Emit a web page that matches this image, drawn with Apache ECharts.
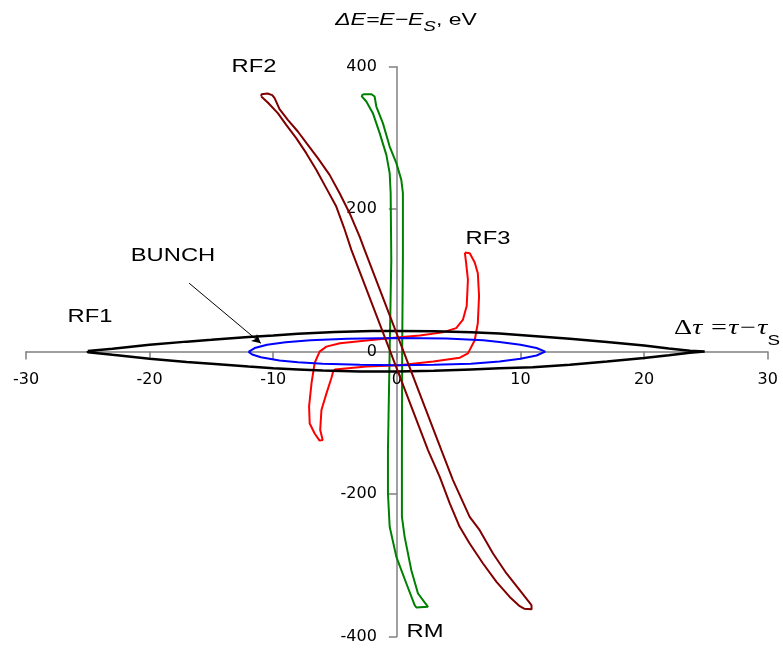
<!DOCTYPE html>
<html>
<head>
<meta charset="utf-8">
<script src="https://cdn.jsdelivr.net/npm/echarts@6/dist/echarts.min.js"></script>
<style>
  html, body { margin: 0; padding: 0; background: #ffffff; }
  #chart { width: 783px; height: 651px; }
</style>
</head>
<body>
<div id="chart"></div>
<script>
// Phase-plane portraits: time offset (ns) vs energy offset (eV)
const xTickValues = [-30, -20, -10, 0, 10, 20, 30];
const yTickValues = [-400, -200, 0, 200, 400];

// RF1 separatrix (lens-shaped bucket)
const rf1 = [
  [-25, 0.8], [-23, 4], [-20, 9.5], [-17, 14], [-15, 16.5], [-12, 20.5], [-10, 22.5], [-8, 25],
  [-5, 27.5], [-2, 29], [0, 29], [3, 28.5], [6, 27], [8.3, 25.5], [11, 22], [14, 18], [17, 13.5],
  [20, 8.5], [22, 4.5], [23.7, 1.3], [24.9, 0.3],
  [24.9, -0.3], [23.7, -1.5], [22, -5], [20, -9], [17, -14], [14, -18.5], [11, -22], [8.3, -23.5],
  [6, -25], [3, -27], [0, -28], [-3, -28], [-6, -26.5], [-8, -25], [-10, -23.5], [-12, -21],
  [-15, -17], [-17, -14.5], [-20, -10], [-23, -4.5], [-25, -0.8], [-25, 0.8]
];

// Bunch contour
const bunch = [
  [-12, -0.5], [-11.5, 5], [-10.5, 9.5], [-9, 13], [-7, 16], [-4, 18], [0, 19], [4, 18.5],
  [7, 16], [8.3, 13.5], [10, 9.5], [11.3, 5], [12, 0],
  [11.3, -5.5], [10, -10], [8.3, -14], [6, -17], [3, -18.5], [0, -19], [-3, -18.5], [-6, -17],
  [-8, -15], [-9.5, -12.5], [-11, -8], [-11.7, -4], [-12, -0.5]
];

// RF2 contour (sheared, long thin loop)
const rf2 = [
  [-10.97, 358.2], [-10.44, 349.7], [-9.63, 334.8], [-8.95, 318.4], [-8.14, 299.7], [-7.33, 278.6],
  [-6.52, 255.2], [-5.71, 229.5], [-4.90, 203.6], [-4.27, 173.8], [-3.68, 142.8],
  [2.52, -138.2], [3.47, -175.8], [4.28, -213.2], [5.08, -246], [5.89, -269.4], [6.97, -297.5],
  [8.06, -323.3], [9.13, -344.4], [9.94, -357.5], [10.3, -361], [10.9, -361.7], [10.89, -356],
  [9.94, -335], [8.87, -311.5], [7.78, -283.4], [6.70, -250.7], [5.89, -232], [4.54, -180.4],
  [3.60, -138.3], [-2.61, 142.8], [-3.01, 161.4], [-3.82, 194.3], [-4.63, 222.4], [-5.44, 248.1],
  [-6.39, 271.6], [-7.20, 290.3], [-8.01, 309], [-8.82, 325.4], [-9.49, 340.4], [-9.89, 355.9],
  [-10.08, 360.1], [-10.46, 362.4], [-10.95, 361.3], [-10.97, 358.2]
];

// RF3 contour (S-shaped loop)
const rf3 = [
  [5.5, 139], [5.6, 125], [5.75, 101], [5.65, 64], [5.35, 45], [4.8, 33], [3.7, 27], [1.85, 22.5],
  [0.2, 20], [-2.45, 15.5], [-4.6, 11.7], [-5.7, 7], [-6.25, 0], [-6.65, -16], [-6.9, -44],
  [-7.1, -77], [-7.05, -101], [-6.65, -115], [-6.25, -125], [-6.0, -124], [-6.2, -110],
  [-6.1, -82], [-5.7, -59], [-5.3, -37.5], [-5.15, -28], [-5.0, -25], [-2.45, -21], [0.2, -19],
  [2.95, -14], [5.1, -8.5], [5.75, -2.5], [6.3, 16], [6.55, 40], [6.65, 78], [6.55, 110],
  [6.3, 125], [5.9, 138], [5.5, 139]
];

// RM contour (nearly vertical loop)
const rm = [
  [-2.87, 359.1], [-2.47, 351.1], [-1.94, 334.8], [-1.39, 306.7], [-0.85, 276.2], [-0.58, 250.5],
  [-0.50, 222.4], [-0.45, 128.7], [-0.58, 2], [-0.72, -138.2], [-0.72, -199.1], [-0.58, -246],
  [-0.04, -288.2], [0.77, -325.6], [1.44, -356], [1.58, -359.3], [2.52, -358.4], [1.71, -339.6],
  [1.17, -306.9], [0.63, -260.1], [0.41, -232], [0.41, -138.2], [0.43, 2], [0.49, 128.7],
  [0.49, 222.4], [0.36, 241.1], [-0.04, 264.6], [-0.58, 287.9], [-1.13, 320.8], [-1.66, 344.1],
  [-1.80, 358.2], [-2.05, 361.3], [-2.69, 361.3], [-2.87, 359.1]
];

// Pointer from the BUNCH caption to the bunch contour
const bunchArrow = [[-16.8, 96], [-11.0, 11.7]];

const chart = echarts.init(document.getElementById('chart'), null, { renderer: 'canvas' });

function loop(name, data, color, width, extra) {
  return Object.assign({
    name: name,
    type: 'line',
    data: data,
    showSymbol: false,
    symbol: 'none',
    smooth: false,
    lineStyle: { color: color, width: width },
    emphasis: { disabled: true },
    silent: true
  }, extra || {});
}

const labelFont = '"Liberation Sans", Arial, sans-serif';
const serifFont = '"Liberation Serif", "Times New Roman", serif';
const stretch = 1.32;

function caption(text, x, y) {
  return {
    type: 'text', x: x, y: y, scaleX: stretch, silent: true,
    style: { text: text, fill: '#000', fontSize: 18, fontFamily: labelFont, align: 'center', verticalAlign: 'middle' }
  };
}

const axisGray = '#808080';
function axisCommon(ticks) {
  return {
    type: 'value',
    min: ticks[0],
    max: ticks[ticks.length - 1],
    interval: ticks[1] - ticks[0],
    axisLine: { show: true, onZero: false, lineStyle: { color: axisGray, width: 1.5 } },
    axisTick: { show: true, inside: false, length: 8, lineStyle: { color: axisGray, width: 1.5 } },
    axisLabel: { margin: 20, color: '#000', fontSize: 16, fontFamily: '"DejaVu Sans", sans-serif' },
    splitLine: { show: false }
  };
}

const grid = { left: 26, right: 15.3, top: 66.7, bottom: 14.5, containLabel: false, outerBoundsMode: 'none' };

chart.setOption({
  animation: false,
  backgroundColor: '#ffffff',
  grid: grid,
  xAxis: axisCommon(xTickValues),
  yAxis: axisCommon(yTickValues),
  series: [
    loop('RM', rm, '#008000', 2),
    loop('RF3', rf3, '#ff0000', 2),
    loop('RF1', rf1, '#000000', 2.5),
    loop('BUNCH', bunch, '#0000ff', 2, {
      markLine: {
        silent: true,
        symbol: ['none', 'arrow'],
        symbolSize: [7, 9],
        label: { show: false },
        lineStyle: { color: '#000', width: 1, type: 'solid' },
        data: [[{ coord: bunchArrow[0] }, { coord: bunchArrow[1] }]]
      }
    }),
    loop('RF2', rf2, '#800000', 2)
  ],
  graphic: [
    caption('RF2', 254, 67),
    caption('RF1', 90, 317),
    caption('BUNCH', 173, 256),
    caption('RF3', 488, 239),
    caption('RM', 425, 632),
    {
      // vertical-axis title with subscript
      type: 'text', x: 406, y: 27, scaleX: 1.35, silent: true,
      style: {
        text: '{i|ΔE=E−E}{s|S}{n|, eV}',
        align: 'center', verticalAlign: 'middle', fill: '#000',
        fontSize: 17, fontFamily: labelFont,
        rich: {
          i: { fontStyle: 'italic', fontSize: 17, fontFamily: labelFont, fill: '#000', lineHeight: 17, verticalAlign: 'top' },
          s: { fontStyle: 'italic', fontSize: 14, fontFamily: labelFont, fill: '#000', lineHeight: 30, verticalAlign: 'middle' },
          n: { fontSize: 17, fontFamily: labelFont, fill: '#000', lineHeight: 17, verticalAlign: 'top' }
        }
      }
    },
    {
      // horizontal-axis title with subscript
      type: 'text', x: 727, y: 341, scaleX: 1.34, silent: true,
      style: {
        text: '{n|Δ}{i|τ =τ−τ}{s|S}',
        align: 'center', verticalAlign: 'middle', fill: '#000',
        fontSize: 21, fontFamily: serifFont,
        rich: {
          n: { fontSize: 21, fontFamily: serifFont, fill: '#000', lineHeight: 21, verticalAlign: 'top' },
          i: { fontStyle: 'italic', fontSize: 21, fontFamily: serifFont, fill: '#000', lineHeight: 21, verticalAlign: 'top' },
          s: { fontSize: 14, fontFamily: labelFont, fill: '#000', lineHeight: 46, verticalAlign: 'middle' }
        }
      }
    }
  ]
});

// Move both axes so they cross at the origin of the data space
const origin = chart.convertToPixel({ gridIndex: 0 }, [0, 0]);
const corner = chart.convertToPixel({ gridIndex: 0 }, [xTickValues[0], yTickValues[0]]);
chart.setOption({
  xAxis: { offset: -(corner[1] - origin[1]) },
  yAxis: { offset: -(origin[0] - corner[0]) }
});
</script>
</body>
</html>
